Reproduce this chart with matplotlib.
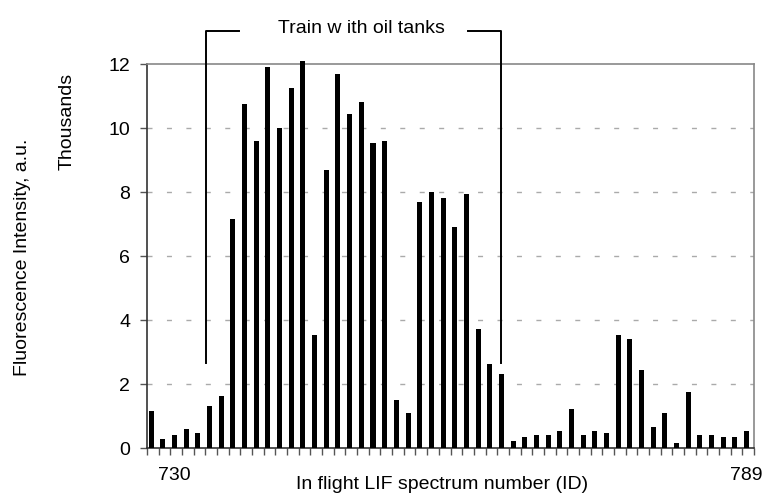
import matplotlib
matplotlib.use("Agg")
import matplotlib.pyplot as plt

plt.rcParams['font.family'] = ['Liberation Sans', 'DejaVu Sans']
plt.rcParams['lines.scale_dashes'] = False

# intensity per spectrum, thousands (a.u.)
intensity = [1.17, 0.29, 0.42, 0.60, 0.48, 1.32, 1.64, 7.17, 10.76, 9.60,
             11.92, 10.00, 11.26, 12.10, 3.54, 8.70, 11.70, 10.45, 10.82, 9.54,
             9.60, 1.51, 1.10, 7.70, 8.00, 7.82, 6.92, 7.95, 3.73, 2.64,
             2.31, 0.23, 0.35, 0.42, 0.42, 0.54, 1.23, 0.42, 0.54, 0.48,
             3.54, 3.42, 2.45, 0.67, 1.10, 0.17, 1.76, 0.42, 0.42, 0.35,
             0.35, 0.54]
id_labels = ["730", "789"]
id_label_pos = [2, 51]
train_first, train_last = 5, 30  # spectra bracketed as the oil tank train

FS = 14


def main():
    fig = plt.figure(figsize=(7.65, 4.95), dpi=100)
    ax = fig.add_axes([0.1922, 0.0943, 0.7934, 0.7757])

    n = len(intensity)
    xs = [i + 0.36 for i in range(n)]
    bars = ax.bar(xs, intensity, width=0.43, color='black', zorder=3)
    for b in bars:
        b.set_clip_on(False)

    ax.set_xlim(0, n)
    ax.set_ylim(0, 12)
    ax.set_yticks(range(0, 13, 2))
    ax.set_xticks(range(n + 1))
    ax.set_xticklabels([])
    ax.tick_params(axis='both', direction='out', length=5, width=1, color='#555555',
                   labelsize=FS, pad=7)

    for y in range(2, 12, 2):
        ax.axhline(y, color='#aaaaaa', lw=1, dashes=(3.6, 10.4), zorder=1)

    for s in ['left', 'bottom']:
        ax.spines[s].set_color('#333333')
        ax.spines[s].set_linewidth(1.2)
    for s in ['top', 'right']:
        ax.spines[s].set_color('#888888')
        ax.spines[s].set_linewidth(1.2)

    for lab, p in zip(id_labels, id_label_pos):
        ax.text(p + 0.3, -0.85, lab, ha='center', va='center', fontsize=FS)

    ax.text(25.3, -1.13, "In flight LIF spectrum number (ID)", ha='center',
            va='center', fontsize=FS)
    fig.text(0.088, 0.755, "Thousands", rotation=90, ha='center', va='center',
             fontsize=FS)
    fig.text(0.029, 0.48, "Fluorescence Intensity, a.u.", rotation=90,
             ha='center', va='center', fontsize=FS)

    # bracket marking the train
    top_y = 13.04
    bot_y = 2.67
    left_x = train_first + 0.06
    right_x = train_last + 0.3
    kw = dict(color='black', lw=1.4, clip_on=False, zorder=4)
    ax.plot([left_x, left_x, 7.9], [bot_y, top_y, top_y], **kw)
    ax.plot([27.5, right_x, right_x], [top_y, top_y, bot_y], **kw)
    ax.text(18.4, 13.13, "Train w ith oil tanks", ha='center', va='center',
            fontsize=FS, clip_on=False)

    fig.savefig("out.png", dpi=100)


if __name__ == "__main__":
    main()
